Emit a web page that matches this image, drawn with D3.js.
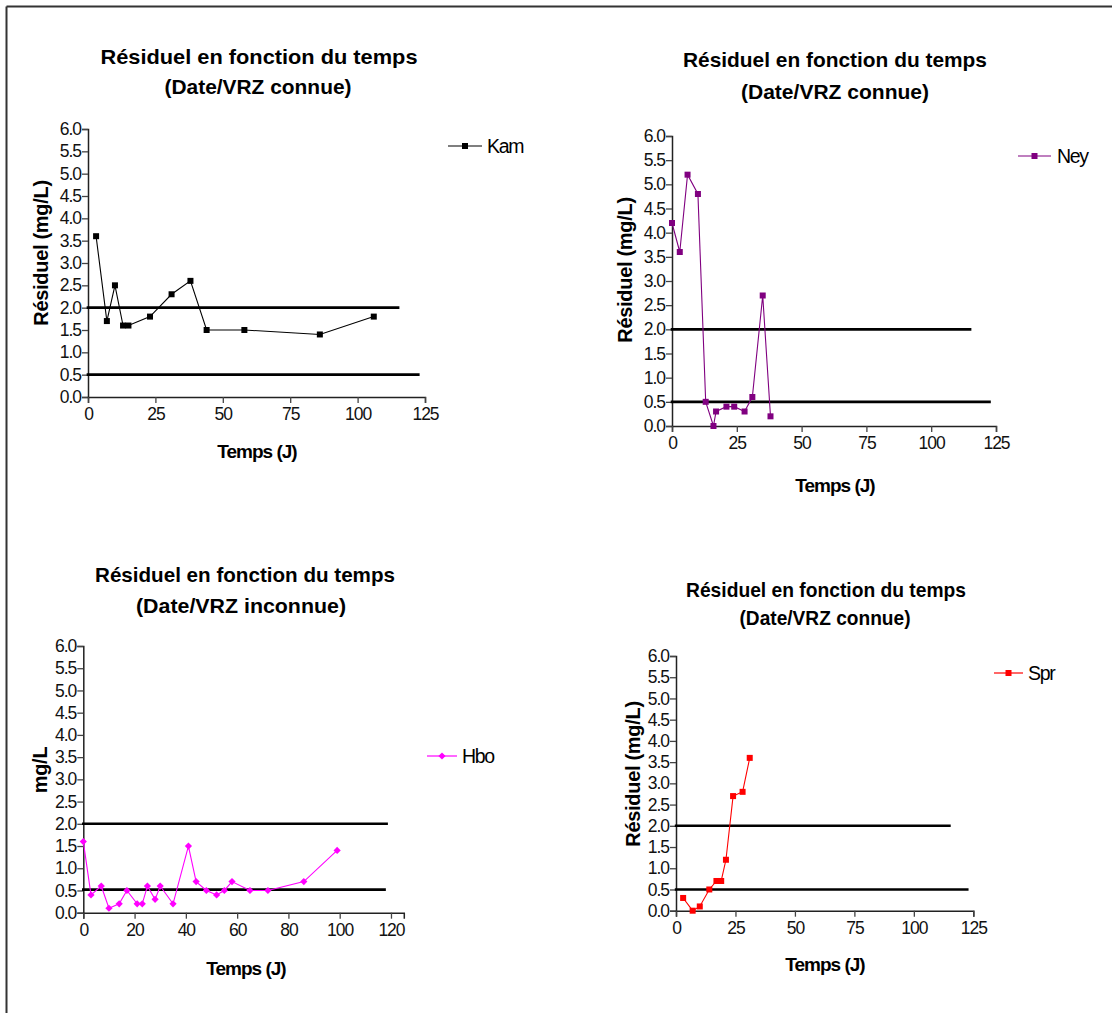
<!DOCTYPE html>
<html><head><meta charset="utf-8">
<script src="https://cdn.jsdelivr.net/npm/d3@7"></script>
<style>
html,body{margin:0;padding:0;background:#fff;}
svg{display:block;font-family:"Liberation Sans",Arial,sans-serif;}
</style></head>
<body>
<svg id="chart" width="1112" height="1013"></svg>
<script>
// ---- Data ----
const titleLine1 = "Résiduel en fonction du temps";
const titleLine2 = ["(Date/VRZ connue)", "(Date/VRZ connue)", "(Date/VRZ inconnue)", "(Date/VRZ connue)"];
const seriesNames = ["Kam", "Ney", "Hbo", "Spr"];
const yAxisTitles = ["Résiduel (mg/L)", "Résiduel (mg/L)", "mg/L", "Résiduel (mg/L)"];
const xAxisTitle = "Temps (J)";

const kamDays   = [3, 7, 10, 13, 15, 23, 31, 38, 44, 58, 86, 106];
const kamValues = [3.6, 1.7, 2.5, 1.6, 1.6, 1.8, 2.3, 2.6, 1.5, 1.5, 1.4, 1.8];

const neyDays   = [0, 3, 6, 10, 13, 16, 17, 21, 24, 28, 31, 35, 38];
const neyValues = [4.2, 3.6, 5.2, 4.8, 0.5, 0.0, 0.3, 0.4, 0.4, 0.3, 0.6, 2.7, 0.2];

const hboDays   = [0, 3, 7, 10, 14, 17, 21, 23, 25, 28, 30, 35, 41, 44, 48, 52, 55, 58, 65, 72, 86, 99];
const hboValues = [1.6, 0.4, 0.6, 0.1, 0.2, 0.5, 0.2, 0.2, 0.6, 0.3, 0.6, 0.2, 1.5, 0.7, 0.5, 0.4, 0.5, 0.7, 0.5, 0.5, 0.7, 1.4];

const sprDays   = [3, 7, 10, 14, 17, 19, 21, 24, 28, 31];
const sprValues = [0.3, 0.0, 0.1, 0.5, 0.7, 0.7, 1.2, 2.7, 2.8, 3.6];

const yTicks = [0, 0.5, 1, 1.5, 2, 2.5, 3, 3.5, 4, 4.5, 5, 5.5, 6];
const xTicks25 = [0, 25, 50, 75, 100, 125];
const xTicks20 = [0, 20, 40, 60, 80, 100, 120];

// threshold reference lines: [level, end day]
const refLinesStd = [[2.0, 115.5], [0.5, 123]];
const refLinesHbo = [[2.0, 118.8], [0.52, 118]];

// ---- Layout (pixels) ----
const panels = [
  {days: kamDays, vals: kamValues, name: 0, color: "#000000", marker: "square", xTicks: xTicks25, refs: refLinesStd,
   x0: 88, x1: 425, yTop: 129, yBot: 397,
   t1: [259, 64, 317], t2: [258, 94, 187], yl: [41, 253], xl: [257, 458],
   leg: [448, 482, 146, 487]},
  {days: neyDays, vals: neyValues, name: 1, color: "#800080", marker: "square", xTicks: xTicks25, refs: refLinesStd,
   x0: 672, x1: 996, yTop: 136, yBot: 426,
   t1: [835, 67, 304], t2: [835, 99, 188], yl: [625, 270], xl: [835, 492],
   leg: [1018, 1051, 156, 1057]},
  {days: hboDays, vals: hboValues, name: 2, color: "#FF00FF", marker: "diamond", xTicks: xTicks20, refs: refLinesHbo,
   x0: 83.3, x1: 403.8, yTop: 646, yBot: 912.7,
   t1: [245, 582, 300], t2: [241, 613, 210], yl: [40, 770], xl: [246, 975],
   leg: [427, 457, 756, 462]},
  {days: sprDays, vals: sprValues, name: 3, color: "#FF0000", marker: "square", xTicks: xTicks25, refs: refLinesStd,
   x0: 676, x1: 973.3, yTop: 656, yBot: 910.7,
   t1: [826, 597, 280], t2: [825, 625, 171], yl: [633, 774], xl: [825, 971],
   leg: [994, 1023, 673, 1028]}
];

const svg = d3.select("#chart");

// frame
svg.append("line").attr("x1", 6.5).attr("x2", 1112).attr("y1", 6.5).attr("y2", 6.5)
  .attr("stroke", "#333").attr("stroke-width", 2);
svg.append("line").attr("x1", 6.5).attr("x2", 6.5).attr("y1", 6.5).attr("y2", 1013)
  .attr("stroke", "#333").attr("stroke-width", 2);

function drawMarker(g, type, x, y, color, size) {
  if (type === "square") {
    g.append("rect").attr("x", x - size / 2).attr("y", y - size / 2)
      .attr("width", size).attr("height", size).attr("fill", color);
  } else {
    const s = size * 0.6;
    g.append("path").attr("d", `M${x},${y - s}L${x + s},${y}L${x},${y + s}L${x - s},${y}Z`).attr("fill", color);
  }
}

panels.forEach(p => {
  const g = svg.append("g");
  const x = d3.scaleLinear().domain([0, 125]).range([p.x0, p.x1]);
  const y = d3.scaleLinear().domain([0, 6]).range([p.yBot, p.yTop]);

  // titles
  g.append("text").attr("x", p.t1[0]).attr("y", p.t1[1]).attr("text-anchor", "middle")
    .attr("font-weight", "bold").attr("font-size", 21)
    .attr("textLength", p.t1[2]).attr("lengthAdjust", "spacingAndGlyphs").text(titleLine1);
  g.append("text").attr("x", p.t2[0]).attr("y", p.t2[1]).attr("text-anchor", "middle")
    .attr("font-weight", "bold").attr("font-size", 21)
    .attr("textLength", p.t2[2]).attr("lengthAdjust", "spacingAndGlyphs").text(titleLine2[p.name]);

  // axes
  const yAxis = d3.axisLeft(y).tickValues(yTicks).tickFormat(d3.format(".1f")).tickSize(6).tickPadding(1);
  const xAxis = d3.axisBottom(x).tickValues(p.xTicks).tickFormat(d3.format("d")).tickSize(6).tickPadding(3);
  const ya = g.append("g").attr("transform", `translate(${p.x0},0)`).call(yAxis);
  const xa = g.append("g").attr("transform", `translate(0,${p.yBot})`).call(xAxis);
  [ya, xa].forEach(a => {
    a.select(".domain").attr("stroke", "#222").attr("stroke-width", 1.5);
    a.selectAll(".tick line").attr("stroke", "#444").attr("stroke-width", 1.3);
    a.selectAll(".tick text").attr("font-size", 17.5).attr("fill", "#111")
      .attr("font-family", "Liberation Sans, Arial, sans-serif").attr("letter-spacing", -1);
  });
  xa.selectAll(".tick text").attr("dy", "0.8em");

  // axis titles
  g.append("text").attr("transform", `translate(${p.yl[0]},${p.yl[1]}) rotate(-90)`)
    .attr("text-anchor", "middle").attr("dy", "0.35em")
    .attr("font-weight", "bold").attr("font-size", 20).attr("letter-spacing", -0.3).text(yAxisTitles[p.name]);
  g.append("text").attr("x", p.xl[0]).attr("y", p.xl[1]).attr("text-anchor", "middle")
    .attr("font-weight", "bold").attr("font-size", 19).attr("letter-spacing", -1).text(xAxisTitle);

  // reference lines
  p.refs.forEach(r => {
    g.append("line").attr("x1", x(-0.5)).attr("x2", x(r[1]))
      .attr("y1", y(r[0])).attr("y2", y(r[0]))
      .attr("stroke", "#000").attr("stroke-width", 2.6);
  });

  // series
  const pts = p.days.map((d, i) => [d, p.vals[i]]);
  const line = d3.line().x(d => x(d[0])).y(d => y(d[1]));
  g.append("path").attr("d", line(pts)).attr("fill", "none")
    .attr("stroke", p.color).attr("stroke-width", 1.1);
  pts.forEach(d => drawMarker(g, p.marker, x(d[0]), y(d[1]), p.color, 6));

  // legend
  g.append("line").attr("x1", p.leg[0]).attr("x2", p.leg[1]).attr("y1", p.leg[2]).attr("y2", p.leg[2])
    .attr("stroke", p.color).attr("stroke-width", 1.2);
  drawMarker(g, p.marker, (p.leg[0] + p.leg[1]) / 2, p.leg[2], p.color, 6);
  g.append("text").attr("x", p.leg[3]).attr("y", p.leg[2]).attr("dy", "0.35em")
    .attr("font-size", 19.5).attr("letter-spacing", -1.3).text(seriesNames[p.name]);
});
</script>
</body></html>
